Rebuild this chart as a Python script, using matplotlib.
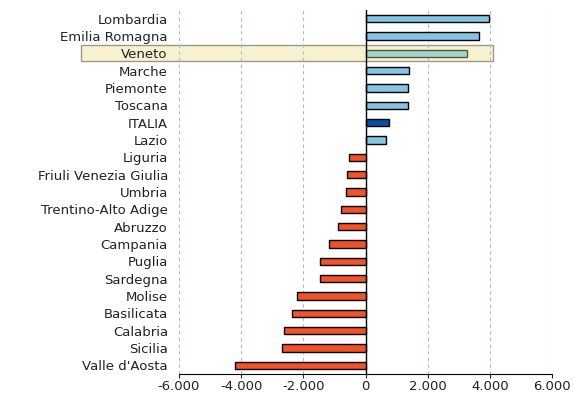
import matplotlib.pyplot as plt
import matplotlib.patches as mpatches
import matplotlib.transforms as mtransforms
from matplotlib.ticker import FuncFormatter
import numpy as np

regioni = ["Lombardia", "Emilia Romagna", "Veneto", "Marche", "Piemonte", "Toscana",
           "ITALIA", "Lazio", "Liguria", "Friuli Venezia Giulia", "Umbria",
           "Trentino-Alto Adige", "Abruzzo", "Campania", "Puglia", "Sardegna",
           "Molise", "Basilicata", "Calabria", "Sicilia", "Valle d'Aosta"]
valori = [3970, 3640, 3270, 1400, 1375, 1375,
          760, 665, -540, -610, -620,
          -800, -900, -1190, -1460, -1460,
          -2190, -2370, -2630, -2680, -4200]

colori = []
bordi = []
for r, v in zip(regioni, valori):
    if r == "ITALIA":
        colori.append("#0a4ea6")
    elif r == "Veneto":
        colori.append("#a6d2c8")
    elif v > 0:
        colori.append("#86c4e4")
    else:
        colori.append("#f0522a")
    bordi.append("#55574a" if r == "Veneto" else "black")

fig = plt.figure(figsize=(5.74, 3.93), dpi=100)
ax = fig.add_axes([179/574, 1-374/393, 373/574, 364/393])

y = np.arange(len(regioni))
ax.barh(y, valori, height=0.42, color=colori, edgecolor=bordi, linewidth=1.0, zorder=3)
ax.set_ylim(len(regioni) - 0.5, -0.5)
ax.set_xlim(-6000, 6000)

ax.set_yticks(y)
ax.set_yticklabels(regioni, fontsize=9.5, color="#222222")
ax.tick_params(axis="y", length=0, pad=8)
ax.set_xticks(np.arange(-6000, 6001, 2000))
ax.xaxis.set_major_formatter(FuncFormatter(lambda v, p: f"{int(v):,}".replace(",", ".")))
ax.tick_params(axis="x", labelsize=9.5, length=3, pad=1, direction="out", colors="#222222")

for s in ["top", "right", "left"]:
    ax.spines[s].set_visible(False)
ax.spines["bottom"].set_color("black")

# griglia verticale tratteggiata, linea dello zero piena
for gx in [-6000, -4000, -2000, 2000, 4000, 6000]:
    ax.axvline(gx, color="#9fbfd6", linestyle=(0, (3, 3)), linewidth=0.8, zorder=1)
ax.axvline(0, color="black", linewidth=1.0, zorder=4)

# evidenziazione del Veneto (sotto barre ed etichette)
trans = mtransforms.blended_transform_factory(ax.transAxes, ax.transData)
idx = regioni.index("Veneto")
box = mpatches.Rectangle((-0.263, idx - 0.46), 1.105, 0.92, transform=trans,
                         facecolor="#f8f1cf", edgecolor="#9a9a8a",
                         linewidth=1.0, clip_on=False, zorder=0.5)
ax.add_patch(box)

fig.savefig("out.png", dpi=100)
